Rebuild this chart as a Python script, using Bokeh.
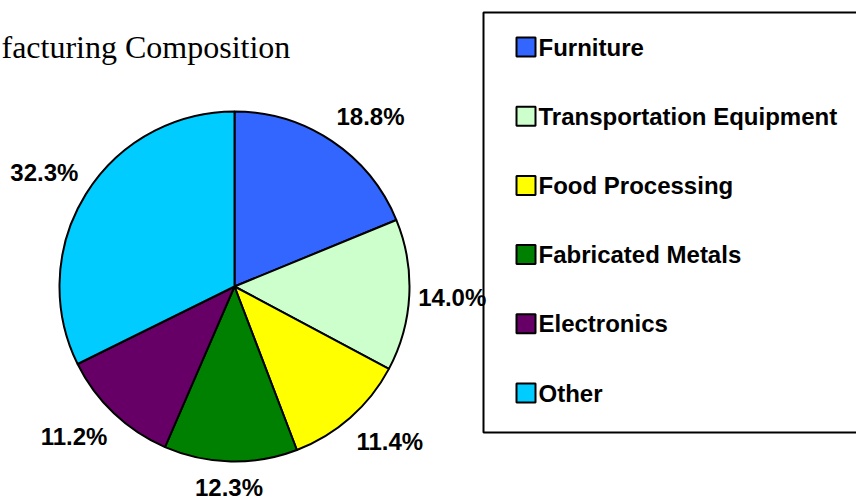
import numpy as np
from bokeh.plotting import figure
from bokeh.models import Range1d, ColumnDataSource
from bokeh.core.properties import value
from bokeh.embed import file_html
from bokeh.resources import INLINE

# ---- data ----
categories = ["Furniture", "Transportation Equipment", "Food Processing",
              "Fabricated Metals", "Electronics", "Other"]
shares = [18.8, 14.0, 11.4, 12.3, 11.2, 32.3]
colors = ["#3366FF", "#CCFFCC", "#FFFF00", "#008000", "#660066", "#00CCFF"]
title_text = "facturing Composition"

# ---- layout ----
W, H = 856, 496
cx, cy, R = 234, H - 286, 175

frac = np.array(shares) / sum(shares)
cum = np.concatenate([[0.0], np.cumsum(frac)])
start = np.pi / 2 - 2 * np.pi * cum[:-1]
end = np.pi / 2 - 2 * np.pi * cum[1:]
mid = (start + end) / 2

gap, bw, bh = 10, 66, 32
lx = cx + (R + gap) * np.cos(mid) + bw / 2 * np.clip(2 * np.cos(mid), -1, 1)
ly = cy + (R + gap) * np.sin(mid) + bh / 2 * np.clip(2 * np.sin(mid), -1, 1)
labels = [f"{s:.1f}%" for s in shares]

src = ColumnDataSource(dict(start=start, end=end, color=colors, cat=categories))
lab_src = ColumnDataSource(dict(x=lx, y=ly, text=labels))

p = figure(width=W, height=H, x_range=Range1d(0, W), y_range=Range1d(0, H),
           output_backend="svg", toolbar_location=None,
           x_axis_location=None, y_axis_location=None, min_border=0)
p.grid.visible = False
p.outline_line_color = None
p.background_fill_color = "white"
p.border_fill_color = "white"

# legend box (extends past right edge)
p.quad(left=[483], right=[875], top=[H - 12], bottom=[H - 432],
       fill_color="white", line_color="black", line_width=2)

# pie
p.wedge(x=cx, y=cy, radius=R, start_angle="start", end_angle="end",
        direction="clock", fill_color="color", line_color="black",
        line_width=2, source=src)

# percentage labels
p.text(x="x", y="y", text="text", source=lab_src, text_align="center",
       text_baseline="middle", text_font=value("Liberation Sans"),
       text_font_style="bold", text_font_size="24px", text_color="black")

# legend entries
n = len(categories)
ys = H - (46.5 + 69.2 * np.arange(n))
leg_src = ColumnDataSource(dict(x=[525.5] * n, tx=[538] * n, y=ys,
                                color=colors, cat=categories))
p.rect(x="x", y="y", width=19, height=19, fill_color="color",
       line_color="black", line_width=2, source=leg_src)
p.text(x="tx", y="y", text="cat", source=leg_src, text_align="left",
       text_baseline="middle", text_font=value("Liberation Sans"),
       text_font_style="bold", text_font_size="24px", text_color="black")

# (cropped) title
p.text(x=[1], y=[H - 46], text=[title_text], text_align="left",
       text_baseline="middle", text_font=value("Liberation Serif"),
       text_font_size="32px", text_color="black")

html = file_html(p, INLINE)
html = html.replace("<head>", "<head><style>html,body{margin:0;padding:0;}</style>", 1)
open("out.html", "w").write(html)
